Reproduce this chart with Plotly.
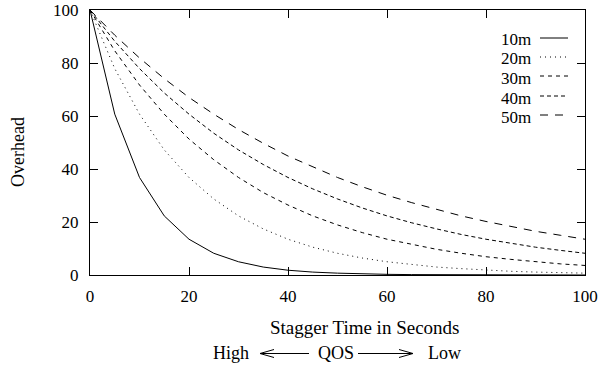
import plotly.graph_objects as go

# ---- data ----
stagger = [0, 5, 10, 15, 20, 25, 30, 35, 40, 45, 50, 55, 60, 65, 70, 75, 80, 85, 90, 95, 100]
ovh_10m = [100, 60.7, 36.8, 22.3, 13.5, 8.2, 5.0, 3.0, 1.8, 1.1, 0.7, 0.4, 0.25, 0.15, 0.09, 0.06, 0.03, 0.02, 0.01, 0.01, 0.0]
ovh_20m = [100, 77.9, 60.7, 47.2, 36.8, 28.7, 22.3, 17.4, 13.5, 10.5, 8.2, 6.4, 5.0, 3.9, 3.0, 2.4, 1.8, 1.4, 1.1, 0.9, 0.7]
ovh_30m = [100, 84.6, 71.7, 60.7, 51.3, 43.5, 36.8, 31.1, 26.4, 22.3, 18.9, 16.0, 13.5, 11.5, 9.7, 8.2, 6.9, 5.9, 5.0, 4.2, 3.6]
ovh_40m = [100, 88.2, 77.9, 68.7, 60.7, 53.5, 47.2, 41.7, 36.8, 32.5, 28.7, 25.3, 22.3, 19.7, 17.4, 15.3, 13.5, 11.9, 10.5, 9.3, 8.2]
ovh_50m = [100, 90.5, 81.9, 74.1, 67.0, 60.7, 54.9, 49.7, 44.9, 40.7, 36.8, 33.3, 30.1, 27.3, 24.7, 22.3, 20.2, 18.3, 16.5, 15.0, 13.5]
series_names = ["10m", "20m", "30m", "40m", "50m"]
tick_vals = [0, 20, 40, 60, 80, 100]

dashes = ["solid", "1px,4px", "4px,4px", "4px,3px", "8px,7px"]
series = [ovh_10m, ovh_20m, ovh_30m, ovh_40m, ovh_50m]

FONT = "Liberation Serif"
W, H = 601, 368
L, R, T, B = 90, 16, 10, 93
PW, PH = W - L - R, H - T - B


def px(x):
    return (x - L) / PW


def py(y):
    return (H - B - y) / PH


fig = go.Figure()
for name, ys, d in zip(series_names, series, dashes):
    fig.add_trace(go.Scatter(x=stagger, y=ys, mode="lines", name=name,
                             line=dict(color="black", width=1, dash=d),
                             showlegend=False))

# manual gnuplot-style key: text then sample line
key_rows = [40, 59, 78, 98, 117]
shapes = []
annotations = []
for name, d, yr in zip(series_names, dashes, key_rows):
    annotations.append(dict(text=name, x=px(499), y=py(yr), xref="paper", yref="paper",
                            xanchor="left", yanchor="middle", showarrow=False,
                            font=dict(family=FONT, size=17, color="black")))
    shapes.append(dict(type="line", xref="paper", yref="paper",
                       x0=px(540), x1=px(568), y0=py(yr - 2), y1=py(yr - 2),
                       line=dict(color="black", width=1, dash=d)))

annotations.append(dict(text="Overhead", x=px(18), y=py(152), xref="paper", yref="paper",
                        textangle=-90, showarrow=False, xanchor="center", yanchor="middle",
                        font=dict(family=FONT, size=18, color="black")))
annotations.append(dict(text="Stagger Time in Seconds", x=px(364), y=py(327), xref="paper", yref="paper",
                        showarrow=False, xanchor="center", yanchor="middle",
                        font=dict(family=FONT, size=19, color="black")))
for txt, xc in [("High", 231), ("QOS", 336), ("Low", 444)]:
    annotations.append(dict(text=txt, x=px(xc), y=py(353), xref="paper", yref="paper",
                            showarrow=False, xanchor="center", yanchor="middle",
                            font=dict(family=FONT, size=18, color="black")))


# open-chevron arrows (gnuplot style)
def arrow_path(tail, tip, yc, head=14, half=4):
    s = 1 if tip > tail else -1
    back = tip - s * head
    return (f"M {px(tail)} {py(yc)} L {px(tip)} {py(yc)} "
            f"M {px(back)} {py(yc - half)} L {px(tip)} {py(yc)} L {px(back)} {py(yc + half)}")


for tail, tip in [(309, 260), (358, 413)]:
    shapes.append(dict(type="path", xref="paper", yref="paper",
                       path=arrow_path(tail, tip, 353.5),
                       line=dict(color="black", width=1)))

axis_common = dict(showline=True, linecolor="black", linewidth=1, mirror="ticks",
                   ticks="inside", ticklen=8, tickcolor="black", tickwidth=1,
                   showgrid=False, zeroline=False, tickvals=tick_vals, automargin=False,
                   tickfont=dict(family=FONT, size=17, color="black"))

fig.update_layout(
    width=W, height=H,
    margin=dict(l=L, r=R, t=T, b=B),
    paper_bgcolor="white", plot_bgcolor="white",
    xaxis=dict(range=[0, 100], ticklabelstandoff=6, **axis_common),
    yaxis=dict(range=[0, 100], ticklabelstandoff=7, **axis_common),
    shapes=shapes, annotations=annotations,
    showlegend=False,
)

fig.write_html("out.html")
